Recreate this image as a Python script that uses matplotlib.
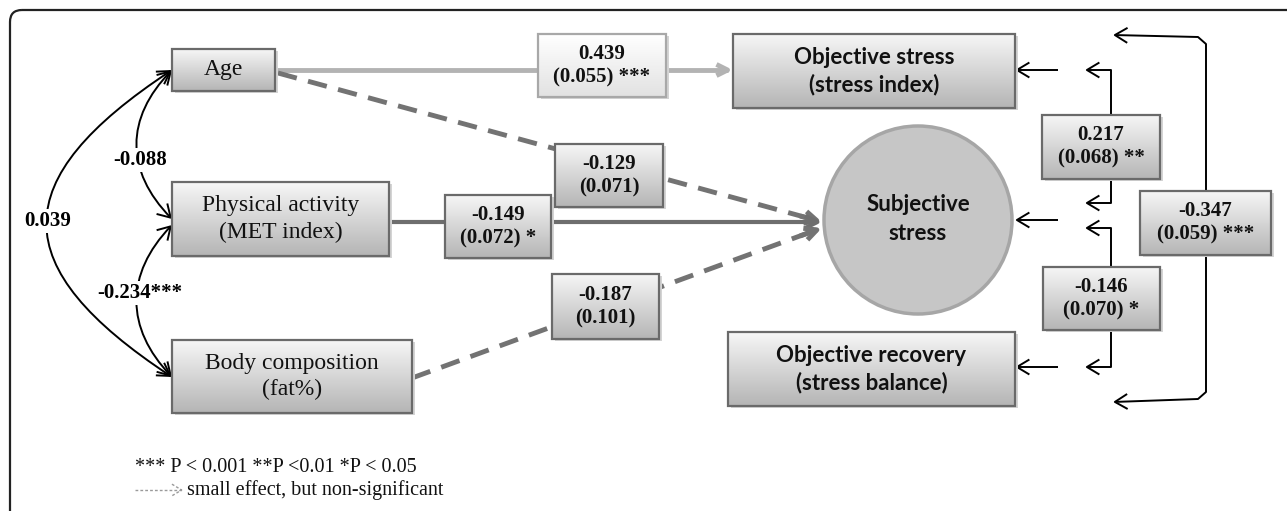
import matplotlib
matplotlib.use('Agg')
import matplotlib.pyplot as plt
from matplotlib.patches import Rectangle, Circle, FancyArrowPatch, FancyBboxPatch
from matplotlib.path import Path
from matplotlib.colors import LinearSegmentedColormap
import numpy as np

# ---- diagram content ----
predictors = ['Age', 'Physical activity\n(MET index)', 'Body composition\n(fat%)']
outcomes = ['Objective stress\n(stress index)', 'Subjective\nstress', 'Objective recovery\n(stress balance)']
path_coef = ['0.439', '-0.129', '-0.149', '-0.187']
path_se = ['(0.055) ***', '(0.071)', '(0.072) *', '(0.101)']
left_cov = ['-0.088', '-0.234***', '0.039']
right_coef = ['0.217', '-0.146', '-0.347']
right_se = ['(0.068) **', '(0.070) *', '(0.059) ***']
legend_lines = ['*** P < 0.001 **P <0.01 *P < 0.05', 'small effect, but non-significant']

W, H = 1287, 511
fig = plt.figure(figsize=(W / 100, H / 100), dpi=100)
ax = fig.add_axes([0, 0, 1, 1])
ax.axis('off')

SERIF = 'Liberation Serif'
SANS = 'Lato'
HEAD = '->,head_length=0.5,head_width=0.3'
HEAD2 = '<->,head_length=0.5,head_width=0.3'


def grad_box(x0, y0, x1, y1, top='#f6f6f6', bottom='#b5b5b5', edge='#6a6a6a', z=5):
    ax.add_patch(Rectangle((x0 + 2.5, y0 + 2.5), x1 - x0, y1 - y0, fc='#d4d4d4', ec='none', zorder=z))
    rect = Rectangle((x0, y0), x1 - x0, y1 - y0, fc='none', ec=edge, lw=1.6, zorder=z + 2)
    ax.add_patch(rect)
    g = np.linspace(0, 1, 64).reshape(-1, 1)
    cmap = LinearSegmentedColormap.from_list('g', [top, bottom])
    im = ax.imshow(g, cmap=cmap, extent=[x0, x1, y1, y0], aspect='auto',
                   zorder=z + 1, interpolation='bilinear')
    im.set_clip_path(rect)


def label(x, y, s, fam=SERIF, fs=15, bold=True, ls=1.25, z=10):
    ax.text(x, y, s, ha='center', va='center', fontsize=fs, family=fam,
            fontweight='bold' if bold else 'normal', linespacing=ls, zorder=z, color='#111111')


def arrow(verts, style='->', color='black', lw=1.3, ms=18, z=3, codes=None, ls='-'):
    p = FancyArrowPatch(path=Path(verts, codes), arrowstyle=style, color=color, lw=lw,
                        mutation_scale=ms, zorder=z, capstyle='butt', joinstyle='round',
                        linestyle=ls)
    ax.add_patch(p)
    return p


# frame
ax.add_patch(FancyBboxPatch((10, 10), 1500, 700, boxstyle='round,pad=0,rounding_size=12',
                            fc='none', ec='#222222', lw=1.6, zorder=1))

# ---- predictor boxes ----
pred_boxes = [(172, 49, 275, 91), (172, 182, 389, 256), (172, 340, 412, 413)]
for (x0, y0, x1, y1), s in zip(pred_boxes, predictors):
    grad_box(x0, y0, x1, y1)
    label((x0 + x1) / 2, (y0 + y1) / 2, s, fs=17, bold=False, ls=1.35)

# ---- outcome nodes ----
out_boxes = [(733, 34, 1015, 108), None, (728, 332, 1015, 406)]
for b, s in zip(out_boxes, outcomes):
    if b is None:
        ax.add_patch(Circle((918, 220), 94, fc='#c6c6c6', ec='#a6a6a6', lw=2.5, zorder=5))
        label(918, 219, s, fam=SANS, fs=16, ls=1.45)
    else:
        x0, y0, x1, y1 = b
        grad_box(x0, y0, x1, y1)
        label((x0 + x1) / 2, (y0 + y1) / 2, s, fam=SANS, fs=16, ls=1.3)

# ---- paths from predictors ----
tip = (822, 222)
# Age -> objective stress (light solid)
arrow([(275, 70), (733, 70)], color='#b3b3b3', lw=3.5, ms=20)
# Age -> subjective stress (dashed)
ax.plot([278, 808], [73, 218], color='#737373', lw=3.5, dashes=(4, 2.4), zorder=3, solid_capstyle='butt')
arrow([(800, 216), tip], color='#737373', lw=3.5, ms=22)
# Physical activity -> subjective stress (solid)
arrow([(389, 222), tip], color='#6e6e6e', lw=3.0, ms=22)
# Body composition -> subjective stress (dashed)
ax.plot([412, 808], [378, 233], color='#737373', lw=3.5, dashes=(4, 2.4), zorder=3, solid_capstyle='butt')
arrow([(800, 236), (822, 228)], color='#737373', lw=3.5, ms=22)

coef_boxes = [(538, 34, 666, 97), (555, 144, 663, 207), (445, 195, 551, 258), (552, 274, 659, 339)]
for i, ((x0, y0, x1, y1), c, se) in enumerate(zip(coef_boxes, path_coef, path_se)):
    if i == 0:
        grad_box(x0, y0, x1, y1, top='#ffffff', bottom='#e2e2e2', edge='#a8a8a8')
    else:
        grad_box(x0, y0, x1, y1)
    label((x0 + x1) / 2, (y0 + y1) / 2, c + '\n' + se)

# ---- left covariances (cubic curves) ----
curve = [Path.MOVETO, Path.CURVE4, Path.CURVE4, Path.CURVE4]
left_curves = [
    [(172, 70), (125, 118), (125, 171), (172, 219)],
    [(172, 225), (125, 274), (125, 328), (172, 377)],
    [(172, 70), (5, 180), (5, 267), (172, 377)],
]
left_pos = [(140, 160), (140, 293), (48, 221)]
for verts, s, (lx, ly) in zip(left_curves, left_cov, left_pos):
    arrow(verts, style=HEAD2, lw=1.4, ms=18, codes=curve)
    ax.text(lx, ly, s, ha='center', va='center', fontsize=15, family=SERIF, fontweight='bold',
            zorder=10, bbox=dict(fc='white', ec='none', pad=1.5))

# ---- right side ----
for y in (70, 220, 367):
    arrow([(1058, y), (1015, y)], style=HEAD, lw=1.4, ms=18)
arrow([(1085, 70), (1111, 70), (1111, 203), (1085, 203)], style=HEAD2, lw=1.4, ms=18)
arrow([(1085, 228), (1111, 228), (1111, 367), (1085, 367)], style=HEAD2, lw=1.4, ms=18)
arrow([(1113, 35), (1198, 37), (1206, 44), (1206, 392), (1198, 399), (1113, 402)],
      style=HEAD2, lw=1.4, ms=18)

right_boxes = [(1042, 115, 1160, 179), (1043, 267, 1160, 330), (1140, 191, 1271, 255)]
for (x0, y0, x1, y1), c, se in zip(right_boxes, right_coef, right_se):
    grad_box(x0, y0, x1, y1)
    label((x0 + x1) / 2, (y0 + y1) / 2, c + '\n' + se)

# ---- legend ----
ax.text(135, 467, legend_lines[0], ha='left', va='center', fontsize=14.5, family=SERIF, color='#111111')
arrow([(135, 490), (183, 490)], style=HEAD, color='#9a9a9a', lw=1.0, ms=14, ls=(0, (2, 1.5)))
ax.text(187, 490, legend_lines[1], ha='left', va='center', fontsize=14.5, family=SERIF, color='#111111')

ax.set_xlim(0, W)
ax.set_ylim(H, 0)
fig.savefig('out.png', dpi=100, facecolor='white')
